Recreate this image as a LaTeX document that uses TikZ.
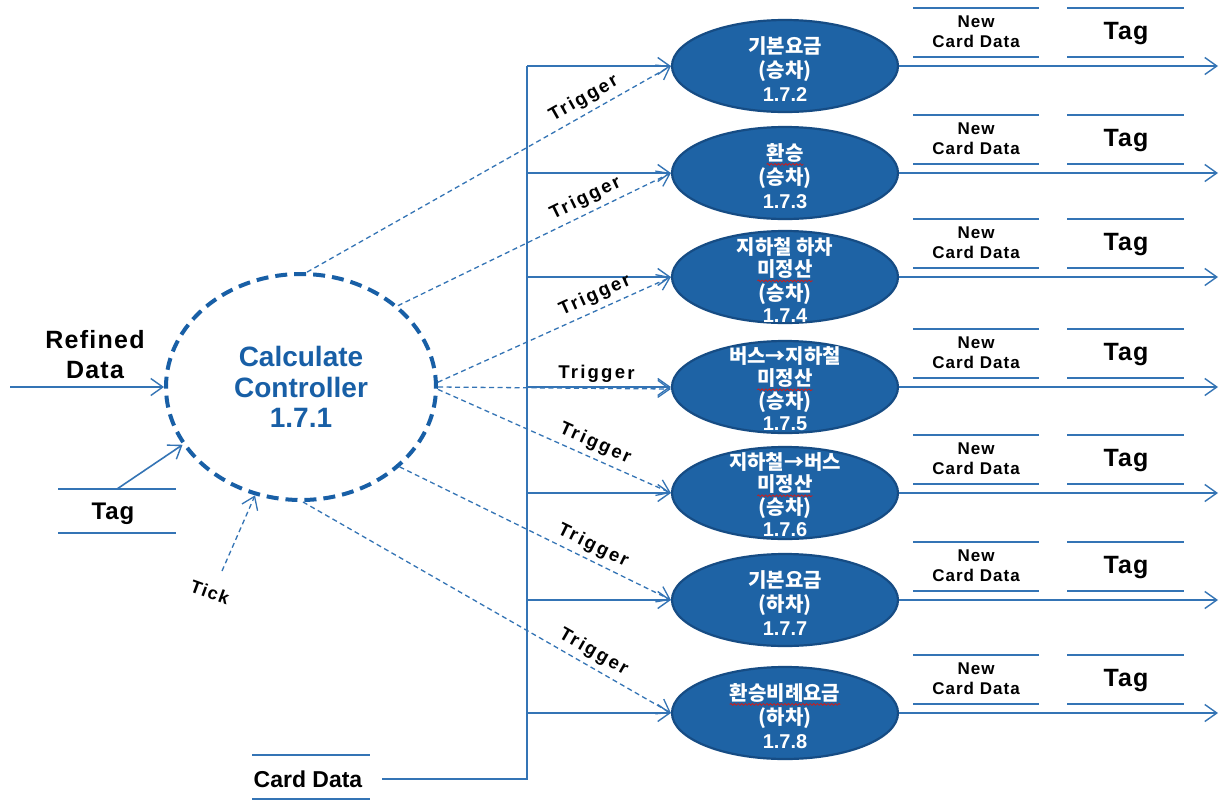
\documentclass[tikz,border=0pt]{standalone}
\usepackage{fontspec}
\setmainfont{Liberation Sans}
\newfontfamily\krfont{Noto Sans CJK KR}
\usetikzlibrary{shapes.geometric,arrows.meta,decorations.pathmorphing}
\definecolor{lineblue}{RGB}{52,116,181}
\definecolor{procfill}{RGB}{30,99,165}
\definecolor{procedge}{RGB}{22,76,132}
\definecolor{ctrlblue}{RGB}{24,95,166}
\definecolor{squig}{RGB}{200,30,30}
\newcommand{\K}[1]{{\krfont\bfseries #1}}
\newcommand{\wv}[1]{\tikz[baseline=(w.base)]{\node[shape=rectangle,inner sep=0pt,outer sep=0pt,draw=none,fill=none,minimum size=0pt,anchor=base](w){#1};\draw[squig,line width=0.8pt,solid,decorate,decoration={snake,amplitude=0.9pt,segment length=3.6pt}]([yshift=-4pt]w.base west)--([yshift=-4pt]w.base east);}}
\begin{document}
\begin{tikzpicture}[x=1pt,y=-1pt,
 flow/.style={draw=lineblue,line width=1.6pt,-{Straight Barb[length=12pt,width=17pt,line width=1.4pt]}},
 trig/.style={draw=lineblue,line width=1.3pt,dash pattern=on 5pt off 3.5pt,-{Straight Barb[length=12pt,width=17pt,line width=1.3pt]}},
 storeline/.style={draw=lineblue,line width=1.6pt},
 proc/.style={ellipse,draw=procedge,line width=2.2pt,fill=procfill,minimum width=226pt,minimum height=92pt,inner sep=0pt},
 ptext/.style={text=white,align=center,inner sep=0pt,font=\bfseries\fontsize{20}{24}\selectfont},
 ptextq/.style={ptext,font=\bfseries\fontsize{20}{22}\selectfont},
 big/.style={inner sep=0pt,align=center,font=\bfseries\fontsize{25}{30}\selectfont\addfontfeature{LetterSpace=5}},
 ncdtext/.style={inner sep=0pt,align=center,font=\bfseries\fontsize{17}{20}\selectfont\addfontfeature{LetterSpace=6}},
 tagtext/.style={inner sep=0pt,font=\bfseries\fontsize{25}{30}\selectfont\addfontfeature{LetterSpace=4}},
 trl/.style={sloped,above=5pt,inner sep=0pt,font=\bfseries\fontsize{18.5}{20}\selectfont\addfontfeature{LetterSpace=12}}
]
\useasboundingbox (0,0) rectangle (1221,801);
\fill[white] (0,0) rectangle (1221,801);

% controller
\node[ellipse,draw=ctrlblue,line width=4pt,dash pattern=on 12pt off 7pt,minimum width=270pt,minimum height=226pt,inner sep=0pt,text=ctrlblue,align=center,font=\bfseries\fontsize{28}{30.5}\selectfont] (ctrl) at (301,387) {Calculate\\Controller\\1.7.1};

% refined data
\coordinate (rdin) at (10,387);
\draw[flow] (rdin) -- (ctrl.west);
\node[big] (rdl) at (95,355) {Refined\\Data};

% tag store (left)
\draw[storeline] (58,489) -- (176,489);
\draw[storeline] (58,533) -- (176,533);
\node[big,font=\bfseries\fontsize{24}{28}\selectfont\addfontfeature{LetterSpace=4}] (tagl) at (113,514) {Tag};
\coordinate (tagsrc) at (117,489);
\draw[flow] (tagsrc) -- (ctrl.206);

% tick
\coordinate (tick) at (222,571);
\draw[trig] (tick) -- (ctrl.247);
\node[inner sep=0pt,rotate=-20,font=\bfseries\fontsize{18}{20}\selectfont\addfontfeature{LetterSpace=8}] (tickl) at (210,592) {Tick};

% card data store
\draw[storeline] (252,755) -- (370,755);
\draw[storeline] (252,799) -- (370,799);
\node[inner sep=0pt,font=\bfseries\fontsize{23}{28}\selectfont] (cdl) at (308,779) {Card Data};
\coordinate (cdout) at (382,779);
\coordinate (busb) at (527,779);
\coordinate (bust) at (527,66);
\draw[lineblue,line width=2.6pt] (cdout) -- (busb) -- (bust);

% processes
\node[proc] (p1) at (785,66) {};
\node[ptext] (p1t) at (785,69) {\K{기본요금}\\\K{(승차)}\\1.7.2};
\node[proc] (p2) at (785,173) {};
\node[ptext] (p2t) at (785,176) {\wv{\K{환승}}\\\K{(승차)}\\1.7.3};
\node[proc] (p3) at (785,277) {};
\node[ptextq] (p3t) at (785,280) {\K{지하철 하차}\\\wv{\K{미정산}}\\\K{(승차)}\\1.7.4};
\node[proc] (p4) at (785,387) {};
\node[ptextq] (p4t) at (785,389) {\K{버스→지하철}\\\wv{\K{미정산}}\\\K{(승차)}\\1.7.5};
\node[proc] (p5) at (785,493) {};
\node[ptextq] (p5t) at (785,495) {\K{지하철→버스}\\\wv{\K{미정산}}\\\K{(승차)}\\1.7.6};
\node[proc] (p6) at (785,600) {};
\node[ptext] (p6t) at (785,603) {\K{기본요금}\\\K{(하차)}\\1.7.7};
\node[proc] (p7) at (785,713) {};
\node[ptext] (p7t) at (785,716) {\wv{\K{환승비례요금}}\\\K{(하차)}\\1.7.8};

% bus branches, outputs, stores
\foreach \i/\y in {1/66,2/173,3/277,4/387,5/493,6/600,7/713} {
  \draw[flow] (bust |- p\i.west) -- (p\i.west);
  \coordinate (o\i) at (1218,\y);
  \draw[flow] (p\i.east) -- (o\i);
  \draw[storeline] (913,{\y-58}) -- (1039,{\y-58});
  \draw[storeline] (913,{\y-9}) -- (1039,{\y-9});
  \draw[storeline] (1067,{\y-58}) -- (1184,{\y-58});
  \draw[storeline] (1067,{\y-9}) -- (1184,{\y-9});
  \node[ncdtext] (n\i) at (976,{\y-34}) {New\\Card Data};
  \node[tagtext] (t\i) at (1126,{\y-32}) {Tag};
}

% triggers
\draw[trig] (ctrl.87) -- node[trl,pos=0.78] (tr1) {Trigger} (p1.west);
\draw[trig] (ctrl.40) -- node[trl,pos=0.71] (tr2) {Trigger} (p2.west);
\draw[trig] (ctrl.2) -- node[trl,pos=0.70] (tr3) {Trigger} (p3.west);
\draw[trig] (ctrl.0) -- node[trl,pos=0.68] (tr4) {Trigger} ([yshift=-2pt]p4.west);
\draw[trig] (ctrl.-1) -- node[trl,pos=0.65] (tr5) {Trigger} (p5.west);
\draw[trig] (ctrl.-39) -- node[trl,pos=0.69] (tr6) {Trigger} (p6.west);
\draw[trig] (ctrl.-89) -- node[trl,pos=0.77] (tr7) {Trigger} (p7.west);
\end{tikzpicture}
\end{document}
